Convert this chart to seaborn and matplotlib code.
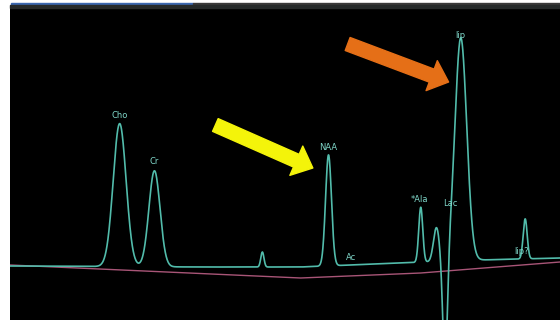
import numpy as np
import pandas as pd
import matplotlib
matplotlib.use("Agg")
import matplotlib.pyplot as plt
from matplotlib.patches import Rectangle
import seaborn as sns

# ── Colours ──────────────────────────────────────────────────────────────────
TEAL = "#52bcab"; LABEL = "#7fd6c8"; PINK = "#a85577"
YELLOW = "#f4f40a"; ORANGE = "#e56f17"

# ── Spectrum data (ppm, heights in display units) ────────────────────────────
peak_names   = ["Cho", "Cr", "Glx", "NAA", "Ala", "Lac+", "Lac-", "lip", "lip2"]
peak_ppm     = [3.21, 3.01, 2.39, 2.01, 1.48, 1.39, 1.34, 1.25, 0.88]
peak_height  = [143, 96, 15, 111, 55, 34, -110, 223, 40]
peak_sigma   = [0.037, 0.032, 0.009, 0.017, 0.0115, 0.017, 0.013, 0.034, 0.0115]

base_ppm     = [3.84, 2.75, 2.17, 1.60, 1.14, 0.68]
base_level   = [54, 53, 53, 57, 60, 62]

fit_ppm      = [3.84, 2.17, 1.48, 0.68]
fit_level    = [55, 42, 47, 58]

labels       = ["Cho", "Cr", "NAA", "Ac", "*Ala", "Lac", "lip", "lip?"]
label_ppm    = [3.21, 3.01, 2.01, 1.88, 1.49, 1.31, 1.25, 0.90]
label_y      = [205, 158, 173, 62, 120, 116, 285, 69]

# arrows: (tail ppm, tail y, tip ppm, tip y)
arrow_yellow = (2.66, 195, 2.10, 152)
arrow_orange = (1.90, 276, 1.32, 238)

# ── Build curve ──────────────────────────────────────────────────────────────
ppm = np.linspace(3.84, 0.68, 3000)
signal = np.interp(ppm, base_ppm[::-1], base_level[::-1])
for c, h, s in zip(peak_ppm, peak_height, peak_sigma):
    signal = signal + h * np.exp(-0.5 * ((ppm - c) / s) ** 2)
df = pd.DataFrame({"ppm": ppm, "signal": signal})
df_fit = pd.DataFrame({"ppm": fit_ppm, "signal": fit_level})

# ── Plot ─────────────────────────────────────────────────────────────────────
sns.set_style("white")
fig = plt.figure(figsize=(5.6, 3.2), dpi=100)
ax = fig.add_axes([10 / 560, 0, 550 / 560, 313 / 320])
ax.set_facecolor("black")

sns.lineplot(data=df_fit, x="ppm", y="signal", ax=ax, color=PINK, lw=1.0, sort=False)
sns.lineplot(data=df, x="ppm", y="signal", ax=ax, color=TEAL, lw=1.2, sort=False)

ax.set_xlim(3.84, 0.68)
ax.set_ylim(0, 313)
ax.set_xticks([]); ax.set_yticks([])
ax.set_xlabel(""); ax.set_ylabel("")
for sp in ax.spines.values():
    sp.set_visible(False)

for t, x, y in zip(labels, label_ppm, label_y):
    ax.text(x, y, t, color=LABEL, fontsize=6, ha="center", va="center")

for (x0, y0, x1, y1), col in [(arrow_yellow, YELLOW), (arrow_orange, ORANGE)]:
    ax.annotate("", xy=(x1, y1), xytext=(x0, y0),
                arrowprops=dict(arrowstyle="simple,head_length=1.3,head_width=2.3,tail_width=1.0",
                                mutation_scale=10, color=col, shrinkA=0, shrinkB=0))

# top window bars
fig.patches.append(Rectangle((0.11, 3.145), 1.82, 0.025, transform=fig.dpi_scale_trans,
                             color="#3c68b0", zorder=5))
fig.patches.append(Rectangle((1.93, 3.145), 3.67, 0.025, transform=fig.dpi_scale_trans,
                             color="#3a3a3a", zorder=5))
fig.patches.append(Rectangle((0.10, 3.125), 5.5, 0.02, transform=fig.dpi_scale_trans,
                             color="#262a2a", zorder=5))

fig.savefig("out.png", dpi=100, facecolor="white")
